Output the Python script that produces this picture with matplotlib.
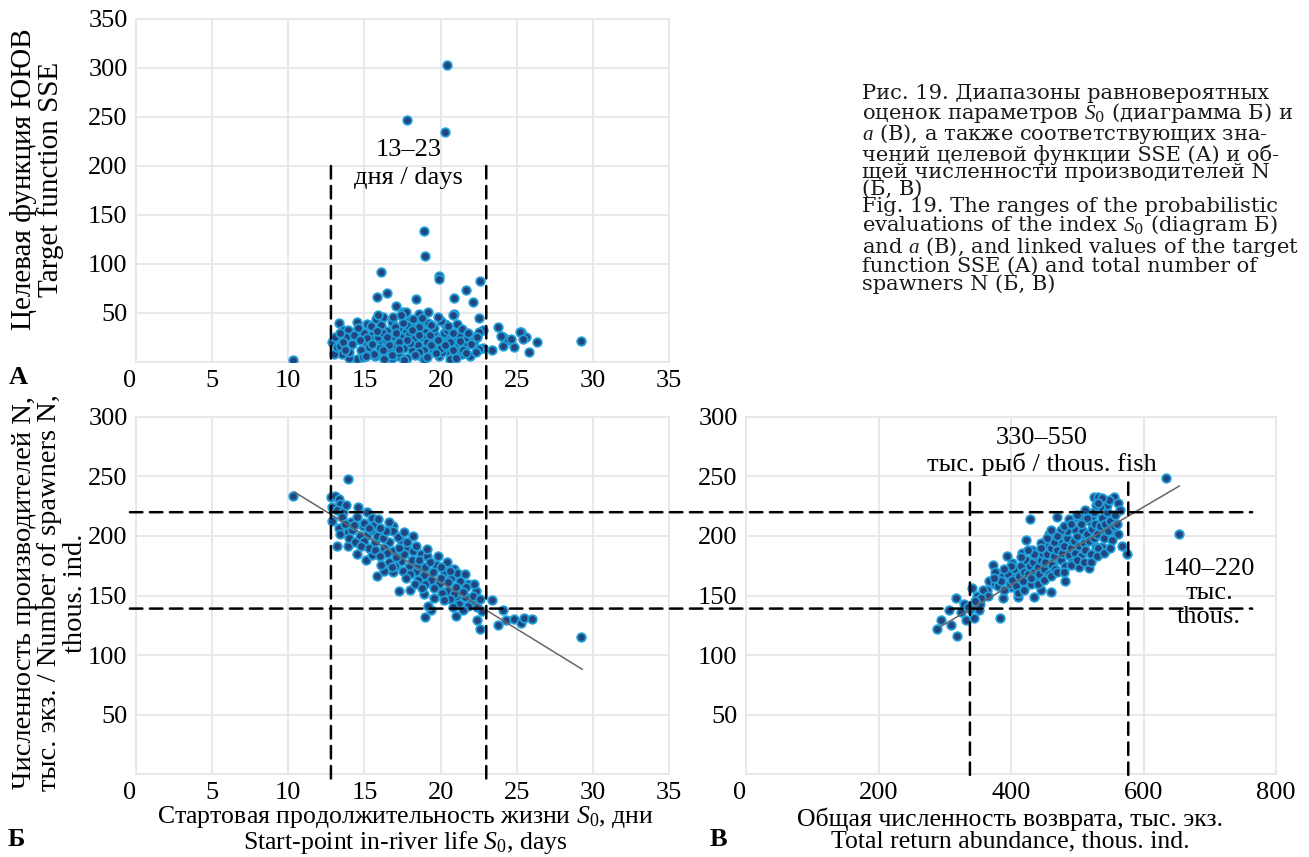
import matplotlib
matplotlib.use("Agg")
import matplotlib.pyplot as plt
from matplotlib.patches import ConnectionPatch

plt.rcParams['font.family'] = ['Liberation Serif', 'DejaVu Serif']
plt.rcParams['mathtext.fontset'] = 'custom'
plt.rcParams['mathtext.rm'] = 'Liberation Serif'
plt.rcParams['mathtext.it'] = 'Liberation Serif:italic'

# ---------------- data ----------------
# Panel A: start-point in-river life S0 (days) vs target function SSE
s0_a = [10.3, 20.4, 17.8, 20.3, 18.9, 19.0, 16.1, 19.9, 19.9, 22.6, 15.8, 16.5, 21.7, 20.9, 22.1,
        18.4, 17.1, 22.5, 20.9, 23.8, 24.1, 24.4, 24.1, 24.8, 25.3, 25.6, 25.8, 26.3, 23.4, 29.2,
        22.8, 22.8, 17.5, 17.7, 19.2, 18.6, 20.8, 16.2, 15.75, 16.8, 18.0, 18.7, 19.2, 20.3, 21.1,
        13.3, 14.5, 15.2, 13.6, 13.9, 14.5, 14.9, 15.5, 16.5, 17.3, 17.7, 18.2, 18.7, 19.0, 19.6,
        20.0, 20.5, 20.8, 21.3, 21.7, 22.1, 22.5, 22.2, 22.5, 21.9, 21.4, 21.0, 20.4, 19.9, 19.3,
        18.7, 18.2, 17.8, 17.3, 16.8, 16.3, 15.7, 15.2, 14.5, 14.0, 13.5, 13.0, 12.9, 13.2, 13.4,
        14.0, 14.5, 15.1, 15.6, 16.1, 16.6, 17.1, 17.4, 17.8, 18.2, 18.6, 19.0, 19.4, 19.9, 20.3,
        20.7, 21.2, 21.6, 24.0, 24.6, 25.2, 25.4,
        13.8, 14.2, 14.8, 15.0, 15.3, 15.6, 15.9, 16.0, 16.2, 16.4, 16.7, 16.9, 17.0, 17.2, 17.4,
        17.6, 17.9, 18.1, 18.3, 18.5, 18.8, 18.9, 19.1, 19.3, 19.5, 19.8, 20.1, 20.2, 20.6, 20.9,
        21.2, 21.5, 14.0, 14.6, 15.4, 16.1, 17.0, 17.8, 18.6, 19.6, 20.4, 21.4, 13.1, 13.6, 16.3,
        17.6, 18.9, 20.6, 14.9, 22.0, 21.8, 15.2, 16.6, 17.3, 18.0, 18.6, 19.4, 20.0, 20.8,
        14.3, 14.7, 15.1, 15.5, 15.8, 16.2, 16.5, 16.8, 17.1, 17.3, 17.5, 17.8, 18.1, 18.3, 18.6,
        18.8, 19.1, 19.4, 19.7, 20.0, 20.3, 20.5, 20.8, 21.0, 21.3, 21.7, 22.3, 22.4, 13.4, 13.7,
        16.9, 17.4, 18.2, 19.8, 15.9]
sse_a = [2, 303, 247, 235, 134, 108, 92, 88, 85, 83, 66, 70, 73, 65, 61,
         64, 57, 45, 49, 36, 26, 22, 16, 15, 31, 25, 10, 20, 12, 21,
         14, 33, 51, 51, 51, 49, 48, 46, 44, 41, 43, 40, 40, 39, 39,
         40, 41, 39, 33, 33, 32, 28, 28, 32, 34, 31, 35, 32, 31, 29,
         26, 26, 23, 23, 23, 25, 31, 21, 13, 6, 8, 16, 11, 6, 10,
         6, 8, 4, 6, 4, 10, 6, 10, 3, 4, 8, 8, 20, 15, 16,
         15, 23, 20, 23, 21, 19, 23, 16, 21, 15, 20, 16, 23, 16, 19,
         15, 11, 16, 27, 23, 31, 23,
         25, 18, 12, 30, 15, 8, 26, 14, 30, 22, 12, 27, 17, 9, 25,
         14, 28, 12, 24, 17, 26, 12, 20, 28, 13, 22, 10, 30, 20, 8,
         28, 12, 10, 35, 37, 38, 36, 38, 36, 35, 33, 34, 25, 20, 3,
         2, 3, 3, 5, 18, 30, 24, 17, 20, 19, 10, 17, 14, 12,
         28, 22, 6, 18, 32, 12, 25, 7, 30, 13, 40, 22, 33, 7, 28,
         45, 5, 38, 9, 42, 17, 37, 30, 4, 21, 9, 10, 25, 30, 12,
         46, 48, 44, 46, 48]

# Panel B: S0 (days) vs number of spawners N (thous. ind.)
s0_b = [10.3, 13.9, 29.2, 12.8, 13.1, 13.3, 13.4, 12.9, 13.2, 13.6, 12.9, 13.5, 13.3, 13.4, 13.2,
        13.9, 14.1, 14.5, 15.2, 15.5, 14.9, 13.9, 14.5, 15.1, 15.5, 15.8, 16.3, 16.9, 17.3, 18.0,
        19.0, 19.4, 19.2, 18.9, 20.9, 21.0, 21.8, 22.3, 21.3, 21.0, 16.9, 16.9, 15.2, 16.1, 16.6,
        17.4, 17.7, 18.2, 18.7, 19.1, 19.7, 20.2, 20.7, 21.3, 21.7, 15.7, 16.3, 16.9, 17.4, 17.9,
        18.4, 18.9, 19.4, 19.9, 20.4, 20.9, 21.6, 22.0, 22.4, 22.7, 23.4, 24.1, 23.8, 24.3, 24.8,
        25.3, 25.5, 26.0, 22.6, 22.4, 14.2, 14.7, 15.0, 15.4, 15.8, 16.2, 16.5, 17.1, 17.6, 18.1,
        18.5, 19.0, 19.5, 20.0, 20.5, 21.0, 21.5, 22.1, 14.0, 14.4, 14.8, 15.3, 15.7, 16.0, 16.6,
        17.0, 17.5, 18.0, 18.5, 19.0, 19.6, 20.1, 20.6, 21.2, 21.8, 13.7, 14.3, 15.0, 15.6, 16.4,
        17.2, 17.8, 18.4, 19.1, 19.8, 20.4, 21.1, 21.6, 22.2, 22.6, 16.1, 16.8, 17.7, 18.3, 18.8,
        19.6, 20.2, 20.8, 21.5, 17.3, 18.6, 19.3, 20.0, 20.6, 14.6, 13.8, 15.9, 16.6, 17.6, 18.2,
        15.3, 16.0]
n_b = [234, 248, 115, 233, 234, 231, 227, 224, 222, 220, 213, 216, 207, 202, 192,
       192, 212, 216, 220, 215, 208, 203, 185, 180, 184, 166, 171, 170, 154, 155,
       132, 138, 141, 151, 172, 133, 160, 154, 144, 149, 208, 204, 201, 201, 195,
       197, 190, 187, 185, 183, 176, 170, 165, 162, 157, 195, 190, 187, 179, 174,
       171, 167, 163, 160, 154, 151, 149, 144, 140, 137, 146, 138, 125, 129, 130,
       127, 131, 130, 122, 129, 205, 200, 196, 205, 200, 198, 186, 182, 185, 180,
       176, 174, 170, 165, 161, 157, 153, 150, 198, 195, 192, 190, 188, 183, 178,
       175, 171, 168, 163, 160, 156, 152, 147, 143, 141, 210, 209, 211, 209, 204,
       199, 195, 192, 189, 183, 178, 169, 168, 160, 147, 176, 174, 165, 160, 156,
       148, 146, 140, 138, 190, 180, 178, 174, 171, 224, 226, 214, 212, 203, 200,
       207, 207]

# Panel C: total return abundance (thous. ind.) vs number of spawners N
ret_c = [634, 653, 289, 294, 310, 318, 317, 329, 332, 344, 341, 348, 351, 364, 367,
         373, 376, 383, 388, 394, 400, 405, 402, 411, 420, 429, 423, 432, 435, 441,
         446, 452, 458, 461, 465, 473, 482, 485, 490, 498, 502, 511, 517, 520, 526,
         531, 528, 537, 540, 546, 552, 555, 561, 564, 562, 567, 575, 552, 540, 523,
         508, 487, 476, 470, 458, 446, 417, 411, 388, 376, 358, 353, 338, 306,
         380, 385, 390, 395, 398, 402, 405, 408, 412, 415, 418, 420, 423, 425, 428,
         430, 433, 435, 438, 440, 442, 445, 447, 450, 452, 455, 457, 460, 462, 465,
         467, 470, 472, 475, 477, 480, 482, 485, 487, 490, 492, 495, 497, 500, 502,
         505, 507, 510, 512, 515, 517, 520, 522, 525, 527, 530, 532, 535, 537, 540,
         542, 545, 547, 550, 552, 555, 557, 560, 545, 535, 525, 515, 505, 495, 485,
         475, 465, 455, 445, 435, 425, 415, 400, 390, 375, 365, 355, 345, 335, 325,
         410, 420, 430, 440, 450, 460, 470, 480, 490, 500, 510, 520, 530, 540, 550,
         470, 480, 490, 460, 500, 512, 528, 548, 538, 532]
n_c = [249, 202, 122, 129, 125, 116, 148, 143, 129, 131, 156, 150, 138, 155, 162,
       176, 170, 131, 148, 183, 157, 167, 177, 149, 178, 214, 197, 188, 149, 166,
       155, 193, 177, 153, 198, 181, 162, 208, 193, 216, 174, 200, 173, 212, 233,
       233, 191, 191, 205, 212, 204, 233, 228, 222, 202, 192, 185, 218, 223, 217,
       215, 214, 200, 216, 202, 194, 186, 171, 166, 160, 155, 143, 139, 138,
       158, 162, 155, 168, 160, 163, 172, 158, 166, 175, 162, 170, 180, 168, 175,
       160, 178, 170, 183, 174, 168, 180, 186, 172, 178, 185, 168, 190, 176, 183,
       172, 188, 195, 180, 186, 192, 175, 198, 184, 190, 178, 196, 186, 200, 192,
       183, 205, 194, 188, 202, 196, 185, 206, 198, 210, 202, 190, 208, 215, 198,
       210, 220, 204, 213, 197, 208, 218, 210, 226, 224, 220, 215, 210, 206, 204,
       205, 195, 198, 190, 185, 188, 182, 175, 172, 165, 150, 148, 145, 140, 136,
       152, 155, 165, 160, 163, 166, 170, 170, 176, 180, 178, 178, 183, 186, 190,
       200, 208, 210, 205, 218, 222, 226, 230, 232, 228]

# Trend lines (end points)
trend_b_x = [10.4, 29.3]
trend_b_y = [237, 88]
trend_c_x = [294, 654]
trend_c_y = [124, 242]

# Range markers
s0_range = [12.8, 23.0]
n_range = [139, 220]
ret_range = [338, 577]

xt_a = [0, 5, 10, 15, 20, 25, 30, 35]
yt_a = [0, 50, 100, 150, 200, 250, 300, 350]
yt_b = [0, 50, 100, 150, 200, 250, 300]
xt_c = [0, 200, 400, 600, 800]

# ---------------- styling ----------------
W, H = 1309, 857
fig = plt.figure(figsize=(W / 100, H / 100), dpi=100)

def box(l, t, r, b):
    return [l / W, 1 - b / H, (r - l) / W, (b - t) / H]

axA = fig.add_axes(box(136, 19, 669, 362))
axB = fig.add_axes(box(136, 417, 669, 774))
axC = fig.add_axes(box(746, 417, 1276, 774))

GRID = '#e6e6ec'
FACE = '#23457f'
EDGE = '#1e9fd8'
TFS = 19

for ax in (axA, axB, axC):
    ax.set_facecolor('white')
    ax.grid(True, color=GRID, lw=1.3, zorder=0)
    ax.set_axisbelow(True)
    for sp in ax.spines.values():
        sp.set_color(GRID)
        sp.set_linewidth(1.3)
    ax.tick_params(length=0, labelsize=TFS, pad=6)

def sc(ax, x, y):
    ax.scatter(x, y, s=38, c=FACE, edgecolors=EDGE, linewidths=1.3, zorder=3)

sc(axA, s0_a, sse_a)
sc(axB, s0_b, n_b)
sc(axC, ret_c, n_c)

axB.plot(trend_b_x, trend_b_y, color='#666666', lw=1.1, zorder=4)
axC.plot(trend_c_x, trend_c_y, color='#666666', lw=1.1, zorder=4)

axA.set_xlim(0, 35); axA.set_ylim(0, 350)
axB.set_xlim(0, 35); axB.set_ylim(0, 300)
axC.set_xlim(0, 800); axC.set_ylim(0, 300)

axA.set_xticks(xt_a, [str(v) for v in xt_a])
axA.set_yticks(yt_a, [''] + [str(v) for v in yt_a[1:]])
axB.set_xticks(xt_a, [str(v) for v in xt_a])
axB.set_yticks(yt_b, [''] + [str(v) for v in yt_b[1:]])
axC.set_xticks(xt_c, [str(v) for v in xt_c])
axC.set_yticks(yt_b, [''] + [str(v) for v in yt_b[1:]])
for ax in (axA, axB, axC):
    ax.get_xticklabels()[0].set_horizontalalignment('right')

# dashed range lines
DASH = dict(color='black', lw=1.8, linestyle=(0, (5, 3)), zorder=6)
for xv in s0_range:
    fig.add_artist(ConnectionPatch(xyA=(xv, 200), coordsA=axA.transData,
                                   xyB=(xv, -5), coordsB=axB.transData, **DASH))
for yv in n_range:
    fig.add_artist(ConnectionPatch(xyA=(-0.4, yv), coordsA=axB.transData,
                                   xyB=(764, yv), coordsB=axC.transData, **DASH))
for xv in ret_range:
    fig.add_artist(ConnectionPatch(xyA=(xv, 245), coordsA=axC.transData,
                                   xyB=(xv, -5), coordsB=axC.transData, **DASH))

# annotations
axA.text(17.9, 202, '13–23\nдня / days', ha='center', va='center', fontsize=TFS,
         linespacing=1.35, zorder=7)
axC.text(447, 271, '330–550\nтыс. рыб / thous. fish', ha='center', va='center',
         fontsize=TFS, linespacing=1.15, zorder=7)
axC.text(699, 152, '140–220\nтыс.\nthous.', ha='center', va='center',
         fontsize=TFS, linespacing=1.1, zorder=7)

# axis labels
fig.text(37 / W, 1 - 179 / H, 'Целевая функция ЮЮВ\nTarget function SSE', rotation=90,
         ha='center', va='center', fontsize=21, linespacing=1.0)
fig.text(50 / W, 1 - 593 / H,
         'Численность производителей N,\nтыс. экз. / Number of spawners N,\nthous. ind.',
         rotation=90, ha='center', va='center', fontsize=20.5, linespacing=1.05)
fig.text(405 / W, 1 - 830 / H,
         'Стартовая продолжительность жизни $S_\\mathregular{0}$, дни\n'
         'Start-point in-river life $S_\\mathregular{0}$, days',
         ha='center', va='center', fontsize=18.5, linespacing=1.0)
fig.text(1010 / W, 1 - 830 / H,
         'Общая численность возврата, тыс. экз.\nTotal return abundance, thous. ind.',
         ha='center', va='center', fontsize=18.5, linespacing=1.0)

# panel letters
fig.text(18 / W, 1 - 378 / H, 'А', ha='center', va='center', fontsize=TFS, fontweight='bold')
fig.text(16 / W, 1 - 840 / H, 'Б', ha='center', va='center', fontsize=TFS, fontweight='bold')
fig.text(718 / W, 1 - 840 / H, 'В', ha='center', va='center', fontsize=TFS, fontweight='bold')

caption = ('Рис. 19. Диапазоны равновероятных\n'
           'оценок параметров $S_\\mathregular{0}$ (диаграмма Б) и\n'
           '$a$ (В), а также соответствующих зна-\n'
           'чений целевой функции SSE (А) и об-\n'
           'щей численности производителей N\n'
           '(Б, В)\n'
           'Fig. 19. The ranges of the probabilistic\n'
           'evaluations of the index $S_\\mathregular{0}$ (diagram Б)\n'
           'and $a$ (В), and linked values of the target\n'
           'function SSE (A) and total number of\n'
           'spawners N (Б, В)')
fig.text(862 / W, 1 - 84 / H, caption, ha='left', va='top', fontsize=15.1,
         linespacing=0.87, family=['DejaVu Serif'], color='#1a1a1a')

fig.savefig('out.png', dpi=100)
